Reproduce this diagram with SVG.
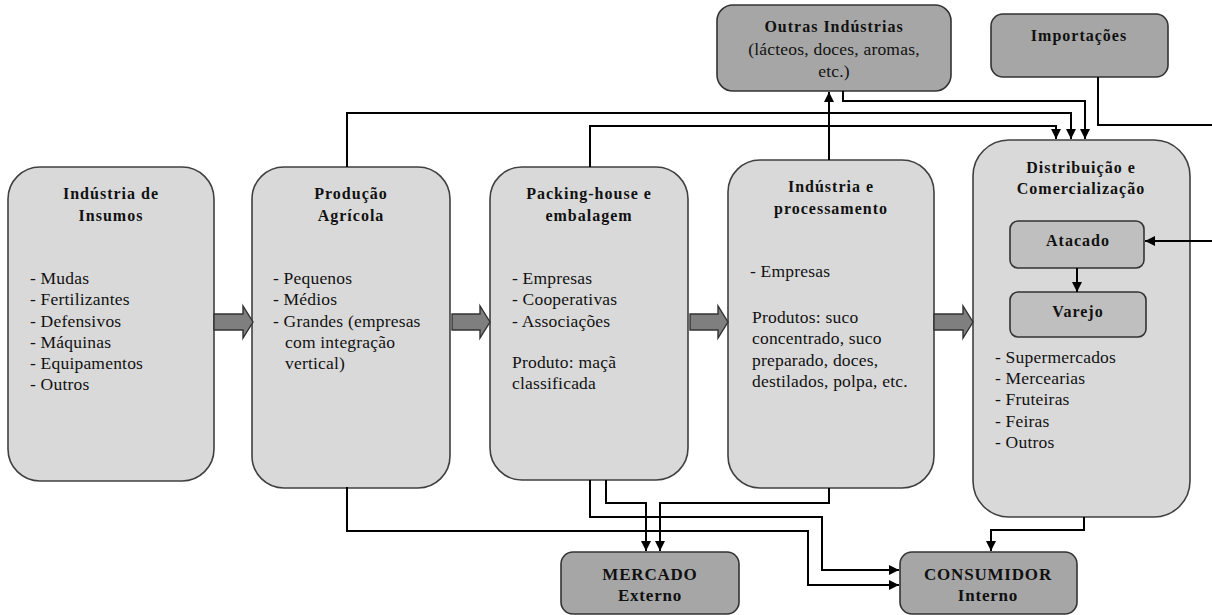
<svg xmlns="http://www.w3.org/2000/svg" width="1212" height="615" viewBox="0 0 1212 615">
<defs>
<marker id="ah" viewBox="0 0 10 10" refX="10" refY="5" markerWidth="10" markerHeight="10" markerUnits="userSpaceOnUse" orient="auto">
<path d="M0,0 L10,5 L0,10 z" fill="#000"/>
</marker>
<style>
.big{fill:#d9d9d9;stroke:#404040;stroke-width:1.6}
.dark{fill:#a6a6a6;stroke:#333;stroke-width:1.6}
.mid{fill:#bfbfbf;stroke:#333;stroke-width:1.6}
.blk{fill:#7f7f7f;stroke:#333;stroke-width:1.4}
.t{font-family:'Liberation Serif','DejaVu Serif',serif;font-size:16px;font-weight:bold;fill:#111;text-anchor:middle;letter-spacing:1px}
.b{font-family:'Liberation Serif','DejaVu Serif',serif;font-size:17.5px;fill:#111;letter-spacing:0.2px}
.bc{font-family:'Liberation Serif','DejaVu Serif',serif;font-size:17.5px;fill:#111;text-anchor:middle;letter-spacing:0.2px}
.m{font-family:'Liberation Serif','DejaVu Serif',serif;font-size:17px;font-weight:bold;fill:#111;text-anchor:middle;letter-spacing:0.8px}
.c{fill:none;stroke:#000;stroke-width:2}
</style>
</defs>
<rect width="1212" height="615" fill="#fff"/>

<g id="insumos">
<rect class="big" x="8" y="167" width="206" height="314" rx="32"/>
<text class="t" x="111" y="199">Indústria de</text>
<text class="t" x="111" y="221">Insumos</text>
<text class="b" x="30" y="284">- Mudas</text>
<text class="b" x="30" y="305">- Fertilizantes</text>
<text class="b" x="30" y="327">- Defensivos</text>
<text class="b" x="30" y="348">- Máquinas</text>
<text class="b" x="30" y="369">- Equipamentos</text>
<text class="b" x="30" y="390">- Outros</text>
</g>

<g id="producao">
<rect class="big" x="252" y="167" width="198" height="321" rx="32"/>
<text class="t" x="351" y="199">Produção</text>
<text class="t" x="351" y="221">Agrícola</text>
<text class="b" x="273" y="284">- Pequenos</text>
<text class="b" x="273" y="305">- Médios</text>
<text class="b" x="273" y="327">- Grandes (empresas</text>
<text class="b" x="285" y="348">com integração</text>
<text class="b" x="285" y="369">vertical)</text>
</g>

<g id="packing">
<rect class="big" x="490" y="167" width="198" height="313" rx="32"/>
<text class="t" x="589" y="199">Packing-house e</text>
<text class="t" x="589" y="221">embalagem</text>
<text class="b" x="512" y="284">- Empresas</text>
<text class="b" x="512" y="305">- Cooperativas</text>
<text class="b" x="512" y="327">- Associações</text>
<text class="b" x="512" y="368">Produto: maçã</text>
<text class="b" x="512" y="389">classificada</text>
</g>

<g id="industria">
<rect class="big" x="728" y="160" width="206" height="328" rx="32"/>
<text class="t" x="831" y="192">Indústria e</text>
<text class="t" x="831" y="214">processamento</text>
<text class="b" x="750" y="277">- Empresas</text>
<text class="b" x="752" y="323">Produtos: suco</text>
<text class="b" x="752" y="344">concentrado, suco</text>
<text class="b" x="752" y="366">preparado, doces,</text>
<text class="b" x="752" y="387">destilados, polpa, etc.</text>
</g>

<g id="distribuicao">
<rect class="big" x="973" y="140" width="217" height="377" rx="36"/>
<text class="t" x="1081" y="173">Distribuição e</text>
<text class="t" x="1081" y="194">Comercialização</text>
<text class="b" x="995" y="363">- Supermercados</text>
<text class="b" x="995" y="384">- Mercearias</text>
<text class="b" x="995" y="405">- Fruteiras</text>
<text class="b" x="995" y="427">- Feiras</text>
<text class="b" x="995" y="448">- Outros</text>
</g>

<g id="atacado">
<rect class="mid" x="1010" y="221" width="134" height="47" rx="8"/>
<text class="t" x="1078" y="246">Atacado</text>
</g>

<g id="varejo">
<rect class="mid" x="1010" y="292" width="136" height="45" rx="8"/>
<text class="t" x="1078" y="317">Varejo</text>
</g>

<g id="outras">
<rect class="dark" x="717" y="5" width="234" height="86" rx="16"/>
<text class="t" x="834" y="32">Outras Indústrias</text>
<text class="bc" x="834" y="55">(lácteos, doces, aromas,</text>
<text class="bc" x="834" y="77">etc.)</text>
</g>

<g id="importacoes">
<rect class="dark" x="991" y="14" width="177" height="63" rx="12"/>
<text class="t" x="1079" y="41">Importações</text>
</g>

<g id="mercado">
<rect class="dark" x="561" y="552" width="178" height="62" rx="12"/>
<text class="m" x="650" y="580">MERCADO</text>
<text class="m" x="650" y="601">Externo</text>
</g>

<g id="consumidor">
<rect class="dark" x="900" y="552" width="177" height="62" rx="12"/>
<text class="m" x="988" y="580">CONSUMIDOR</text>
<text class="m" x="988" y="601">Interno</text>
</g>

<g id="connectors">
<polyline class="c" points="347,167 347,113 1071,113 1071,139" marker-end="url(#ah)"/>
<polyline class="c" points="590,167 590,126 1056,126 1056,139" marker-end="url(#ah)"/>
<polyline class="c" points="843,91 843,101 1085,101 1085,139" marker-end="url(#ah)"/>
<polyline class="c" points="829,160 829,92" marker-end="url(#ah)"/>
<polyline class="c" points="1098,77 1098,125 1212,125"/>
<polyline class="c" points="1212,241 1145,241" marker-end="url(#ah)"/>
<polyline class="c" points="1077,268 1077,292" marker-end="url(#ah)"/>
<polyline class="c" points="606,480 606,503 646,503 646,551" marker-end="url(#ah)"/>
<polyline class="c" points="829,488 829,503 660,503 660,551" marker-end="url(#ah)"/>
<polyline class="c" points="590,480 590,517 822,517 822,570 899,570" marker-end="url(#ah)"/>
<polyline class="c" points="347,487 347,531 808,531 808,585 899,585" marker-end="url(#ah)"/>
<polyline class="c" points="1084,517 1084,530 991,530 991,551" marker-end="url(#ah)"/>
<path class="blk" d="M214,314 H243 V306 L253,322 L243,338 V330 H214 Z"/>
<path class="blk" d="M452,314 H480 V306 L490,322 L480,338 V330 H452 Z"/>
<path class="blk" d="M690,314 H718 V306 L728,322 L718,338 V330 H690 Z"/>
<path class="blk" d="M934,314 H963 V306 L973,322 L963,338 V330 H934 Z"/>
</g>
</svg>
